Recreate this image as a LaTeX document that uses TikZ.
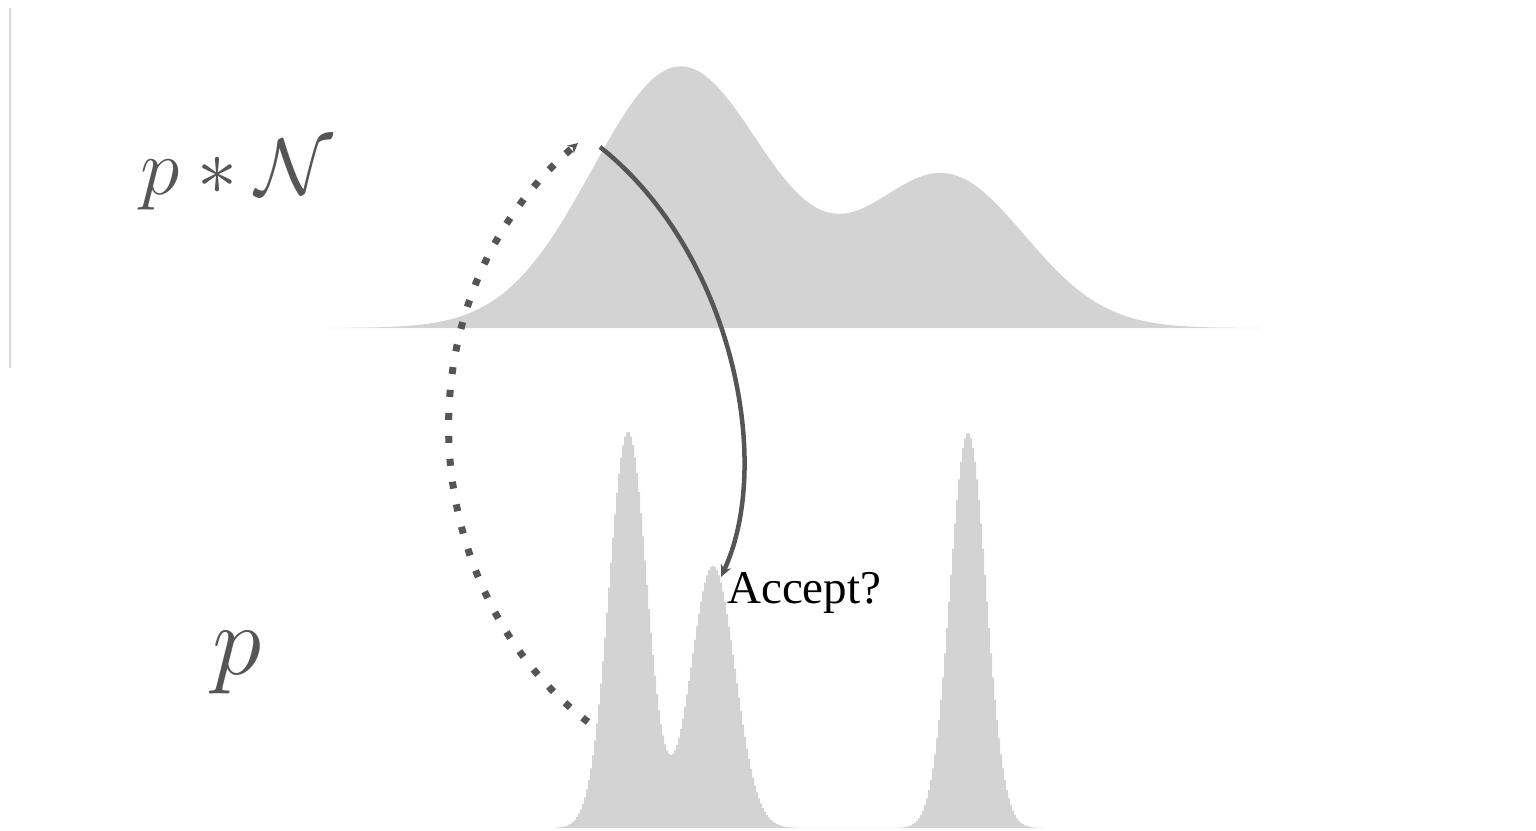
\documentclass[tikz,border=0pt]{standalone}
\usepackage{fix-cm}
\usepackage{fontspec}
\newfontfamily\acceptfont{Liberation Serif}
\usetikzlibrary{arrows.meta}
\definecolor{densgray}{HTML}{D3D3D3}
\definecolor{inkgray}{HTML}{555555}
\def\topbase{328}
\def\botbase{828}
\tikzstyle{density} = [fill=densgray,
draw=none]
\tikzstyle{mathlabel} = [inner sep=0pt,
text=inkgray,
anchor=base west]
\tikzstyle{jump} = [draw=inkgray,
line width=4.5pt,
-{Stealth[length=12pt,width=11pt]}]
\tikzstyle{proposal} = [draw=inkgray,
line width=7pt,
dash pattern=on 7pt off 16pt,
-{Stealth[length=10pt,width=10pt]}]

\begin{document}
\begin{tikzpicture}[x=1pt,y=-1pt]
    \useasboundingbox (0,0) rectangle (1536,830);
    \draw[densgray!90!black!60, line width=1.5pt] (10,8) -- (10,368);
    %%%%%%%%%%%%%%%%%%%%%%%%%%%%%%%%%%%%%%%%
    % Smoothed density
    %%%%%%%%%%%%%%%%%%%%%%%%%%%%%%%%%%%%%%%%
    \fill[density] (330,\topbase) -- plot[smooth, domain=330:1260, samples=190]
        (\x,{\topbase - 261*exp(-min(0.5*((\x-680)/88)^2,9)) - 152*exp(-min(0.5*((\x-945)/80)^2,9))})
        -- (1260,\topbase) -- cycle;
    %%%%%%%%%%%%%%%%%%%%%%%%%%%%%%%%%%%%%%%%
    % Target density
    %%%%%%%%%%%%%%%%%%%%%%%%%%%%%%%%%%%%%%%%
    \fill[density] (555,\botbase) -- plot[const plot mark mid, domain=555:1045, samples=246]
        (\x,{\botbase - 396*exp(-min(0.5*((\x-628)/19)^2,9)) - 262*exp(-min(0.5*((\x-713)/22)^2,9)) - 395*exp(-min(0.5*((\x-968)/18)^2,9))})
        -- (1045,\botbase) -- cycle;
    %%%%%%%%%%%%%%%%%%%%%%%%%%%%%%%%%%%%%%%%
    % Labels
    %%%%%%%%%%%%%%%%%%%%%%%%%%%%%%%%%%%%%%%%
    \node (convlabel) [mathlabel, font=\fontsize{80}{96}\selectfont] at (140,194) {$p*\mathcal{N}$};
    \node (plabel) [mathlabel, font=\fontsize{100}{120}\selectfont] at (212,674) {$p$};
    \node (accept) [inner sep=0pt, anchor=base west, font=\acceptfont\fontsize{47}{56}\selectfont] at (727,603) {Accept?};
    %%%%%%%%%%%%%%%%%%%%%%%%%%%%%%%%%%%%%%%%
    % Moves
    %%%%%%%%%%%%%%%%%%%%%%%%%%%%%%%%%%%%%%%%
    \coordinate (jumpstart) at (600,147);
    \coordinate (jumpend) at (721,577);
    \coordinate (propstart) at (588,722);
    \coordinate (propend) at (578,143);
    \draw[jump] (jumpstart) .. controls (730,250) and (775,460) .. (jumpend);
    \draw[proposal] (propstart) .. controls (415,590) and (395,300) .. (propend);
\end{tikzpicture}
\end{document}
